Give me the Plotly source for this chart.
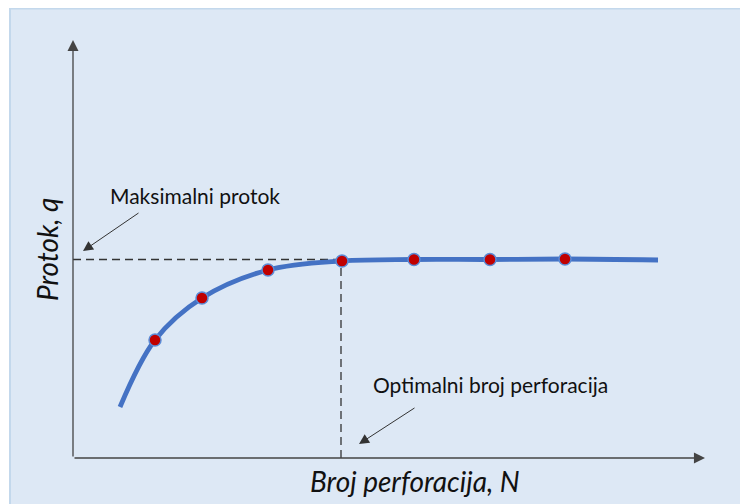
import plotly.graph_objects as go

# Data (arbitrary units)
N_points = [8.2, 12.9, 19.5, 26.9, 34.1, 41.7, 49.2]
q_points = [11.8, 16.0, 18.8, 19.7, 19.85, 19.85, 19.9]
N_curve = [4.7, 8.2, 12.9, 19.5, 26.9, 34.1, 41.7, 49.2, 58.5]
q_curve = [5.1, 11.8, 16.0, 18.8, 19.7, 19.85, 19.85, 19.9, 19.8]
opt_index = 3
x_title = "Broj perforacija, N"
y_title = "Protok, q"
label_max = "Maksimalni protok"
label_opt = "Optimalni broj perforacija"

W, H = 748, 504
FONT = "Lato, 'Open Sans', sans-serif"

fig = go.Figure()

# Smooth curve
fig.add_trace(go.Scatter(x=N_curve, y=q_curve, mode="lines",
                         line=dict(color="#4472c4", width=4.8, shape="spline", smoothing=1.0),
                         hoverinfo="skip", showlegend=False))
# Markers
fig.add_trace(go.Scatter(x=N_points, y=q_points, mode="markers",
                         marker=dict(color="#c00000", size=12, line=dict(color="#5b8bd6", width=1.5)),
                         showlegend=False))

opt_N = N_points[opt_index]
opt_q = q_points[opt_index]

shapes = [
    # light blue panel
    dict(type="rect", xref="paper", yref="paper", x0=2/W, x1=1.02, y0=-0.02, y1=0.999,
         fillcolor="#dde8f5", line=dict(color="#c3d8ec", width=2), layer="below"),
    # dashed reference lines
    dict(type="line", xref="x", yref="y", x0=0, x1=opt_N, y0=opt_q + 0.15, y1=opt_q + 0.15,
         line=dict(color="#333333", width=1.3, dash="8px,5px"), layer="below"),
    dict(type="line", xref="x", yref="y", x0=opt_N - 0.1, x1=opt_N - 0.1, y0=0, y1=opt_q,
         line=dict(color="#333333", width=1.3, dash="8px,5px"), layer="below"),
]

annotations = [
    # y axis arrow
    dict(x=0, y=41.8, ax=0, ay=0, xref="x", yref="y", axref="x", ayref="y",
         showarrow=True, arrowhead=2, arrowsize=1.7, arrowwidth=1.3, arrowcolor="#444444", text=""),
    # x axis arrow
    dict(x=63.2, y=0, ax=0, ay=0, xref="x", yref="y", axref="x", ayref="y",
         showarrow=True, arrowhead=2, arrowsize=1.7, arrowwidth=1.3, arrowcolor="#444444", text=""),
    # axis titles
    dict(x=-2.6, y=20.8, xref="x", yref="y", text="<i>" + y_title + "</i>", showarrow=False,
         textangle=-90, font=dict(family=FONT, size=28, color="#111111")),
    dict(x=34.2, y=-2.3, xref="x", yref="y", text="<i>" + x_title + "</i>", showarrow=False,
         font=dict(family=FONT, size=28, color="#111111")),
    # labels
    dict(x=3.5, y=26.3, xref="x", yref="y", text=label_max, showarrow=False, xanchor="left",
         font=dict(family=FONT, size=21, color="#111111")),
    dict(x=29.8, y=7.4, xref="x", yref="y", text=label_opt, showarrow=False, xanchor="left",
         font=dict(family=FONT, size=21, color="#111111")),
    # label arrows
    dict(x=1.0, y=20.7, ax=6.7, ay=24.6, xref="x", yref="y", axref="x", ayref="y",
         showarrow=True, arrowhead=2, arrowsize=2.0, arrowwidth=1, arrowcolor="#333333", text=""),
    dict(x=28.6, y=1.4, ax=34.3, ay=5.1, xref="x", yref="y", axref="x", ayref="y",
         showarrow=True, arrowhead=2, arrowsize=2.0, arrowwidth=1, arrowcolor="#333333", text=""),
]

# The page body adds an 8px offset; ranges compensate so marks land where the reference has them.
fig.update_layout(
    width=W, height=H,
    margin=dict(l=0, r=0, t=0, b=0),
    paper_bgcolor="white", plot_bgcolor="rgba(0,0,0,0)",
    xaxis=dict(range=[-6.5, 68.3], visible=False, fixedrange=True),
    yaxis=dict(range=[-5.4, 45.0], visible=False, fixedrange=True),
    shapes=shapes, annotations=annotations, showlegend=False,
)

fig.write_html("out.html")
